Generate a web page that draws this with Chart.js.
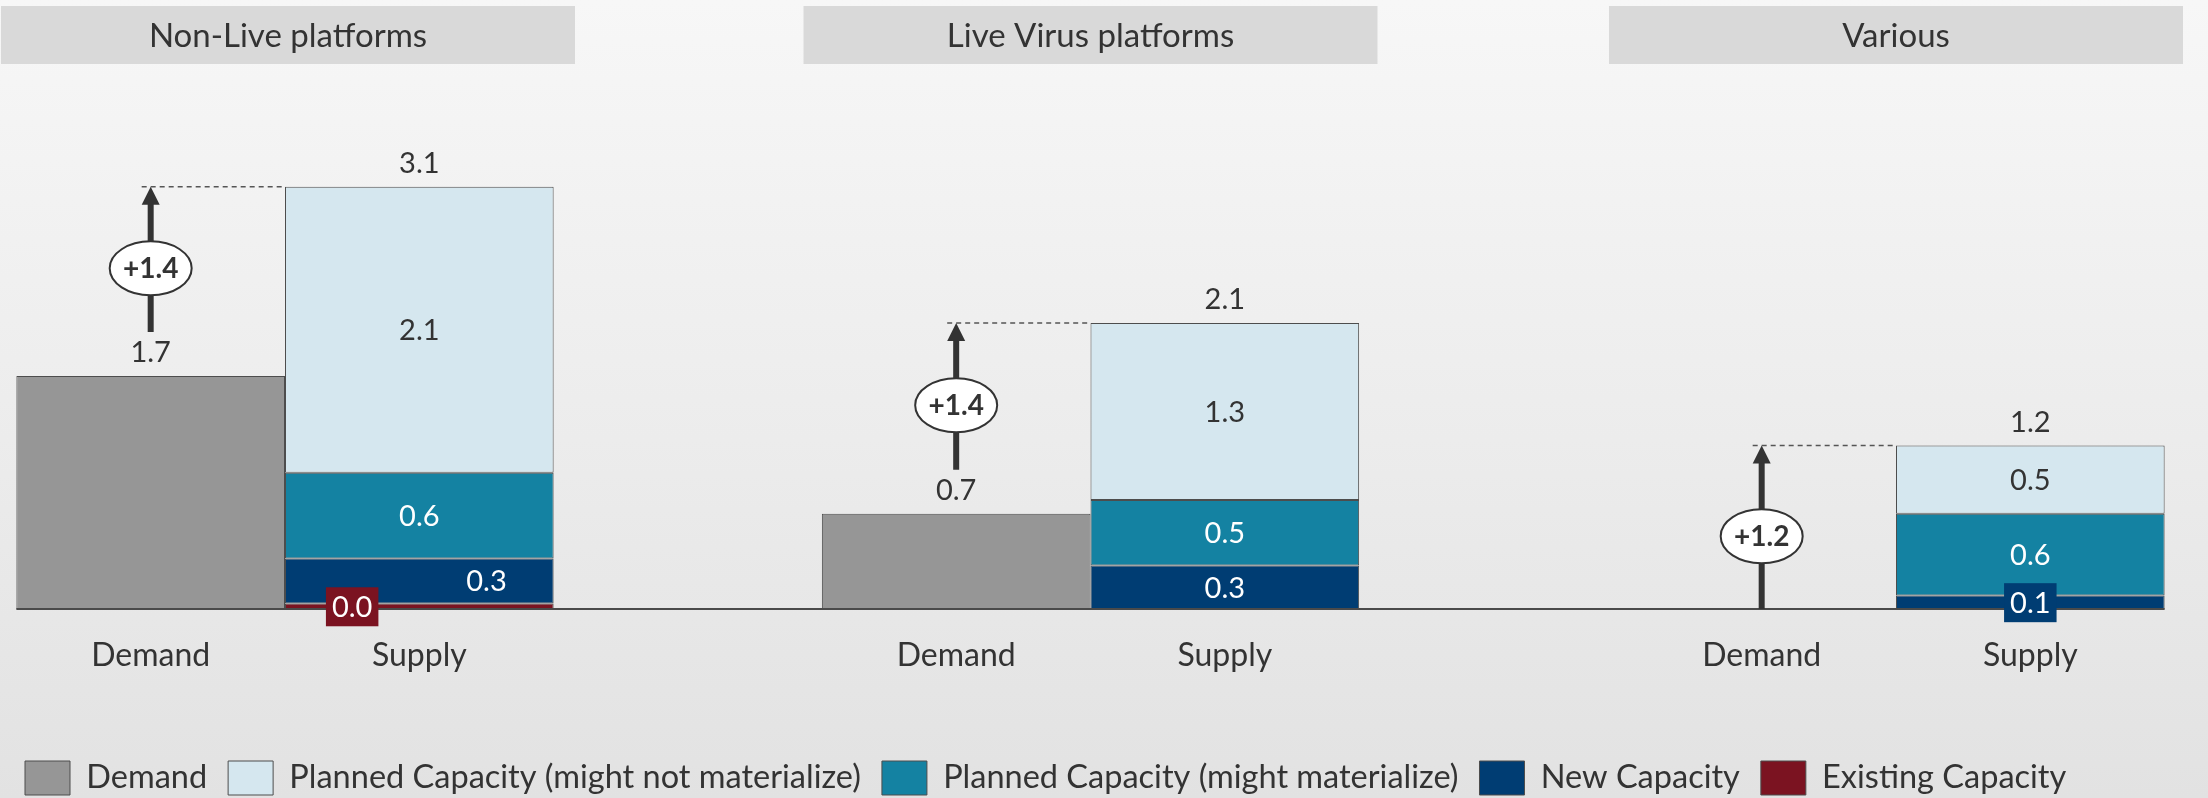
<!DOCTYPE html>
<html lang="en">
<head>
<meta charset="UTF-8">
<title>Demand vs Supply</title>
<style>
  html, body {
    margin: 0;
    padding: 0;
  }
  body {
    width: 2208px;
    height: 798px;
    overflow: hidden;
    background: linear-gradient(to bottom, #f7f7f7 0%, #ececec 55%, #e2e2e2 100%);
    font-family: Lato, sans-serif;
  }
  .wrap {
    position: relative;
    width: 2208px;
    height: 798px;
  }
</style>
</head>
<body>
<div class="wrap">
  <canvas id="chart"></canvas>
</div>

<script src="https://cdn.jsdelivr.net/npm/chart.js@4"></script>
<script>
  // ==== data ====
  const groups = ['Non-Live platforms', 'Live Virus platforms', 'Various'];
  const barNames = ['Demand', 'Supply'];
  const demand = [1.71, 0.70, 0.0];
  const existingCapacity = [0.04, 0.0, 0.0];
  const newCapacity = [0.33, 0.32, 0.10];
  const plannedMaterialize = [0.63, 0.48, 0.60];
  const plannedNotMaterialize = [2.10, 1.30, 0.50];
  const legendOrder = ['Demand', 'Planned Capacity (might not materialize)', 'Planned Capacity (might materialize)', 'New Capacity', 'Existing Capacity'];

  const FONT = 'Lato, "Open Sans", sans-serif';
  Chart.defaults.font.family = FONT;
  Chart.defaults.color = '#333';

  const fmt = v => v.toFixed(1);

  // draws headers, value labels, arrows and bar names
  const overlay = {
    id: 'overlay',
    afterDatasetsDraw(chart) {
      const ctx = chart.ctx;
      const xs = chart.scales.x, ys = chart.scales.y;
      const y0 = ys.getPixelForValue(0);
      const dMeta = chart.getDatasetMeta(0);
      const sMetas = [1, 2, 3, 4].map(i => chart.getDatasetMeta(i));
      const topMeta = sMetas[sMetas.length - 1];
      ctx.save();

      // group headers
      const hw = 574;
      groups.forEach((g, i) => {
        const cx = xs.getPixelForTick(i);
        let left = Math.max(1, Math.min(cx - hw / 2, chart.width - 3 - hw));
        ctx.fillStyle = '#d9d9d9';
        ctx.fillRect(left, 6, hw, 58);
        ctx.fillStyle = '#333';
        ctx.font = '33px ' + FONT;
        ctx.textAlign = 'center';
        ctx.textBaseline = 'middle';
        ctx.fillText(g, left + hw / 2, 36);
      });

      // baseline
      const first = dMeta.data[0], last = topMeta.data[groups.length - 1];
      ctx.strokeStyle = '#4a4a4a';
      ctx.lineWidth = 2;
      ctx.beginPath();
      ctx.moveTo(first.x - first.width / 2, y0);
      ctx.lineTo(last.x + last.width / 2, y0);
      ctx.stroke();

      ctx.textAlign = 'center';
      ctx.textBaseline = 'middle';

      groups.forEach((g, i) => {
        const dEl = dMeta.data[i];
        const sEl = topMeta.data[i];

        // bar names under axis
        ctx.font = '32px ' + FONT;
        ctx.fillStyle = '#333';
        ctx.fillText(barNames[0], dEl.x, y0 + 47);
        ctx.fillText(barNames[1], sEl.x, y0 + 47);

        // segment labels
        ctx.font = '29px ' + FONT;
        const labs = [];
        sMetas.forEach(m => {
          const ds = chart.data.datasets[m.index];
          const v = ds.data[i];
          if (!v) return;
          const el = m.data[i];
          const h = el.base - el.y;
          labs.push({ x: el.x, y: (el.y + el.base) / 2, text: fmt(v), color: ds.labelColor, bg: ds.backgroundColor, boxed: h < 30, w: el.width });
        });
        for (let k = 0; k < labs.length - 1; k++) {
          const a = labs[k], b = labs[k + 1];
          if (a.boxed && Math.abs(a.y - b.y) < 40) {
            a.x -= a.w / 4;
            b.x += b.w / 4;
          }
        }
        labs.forEach(l => {
          if (l.boxed) {
            const tw = ctx.measureText(l.text).width + 12;
            ctx.fillStyle = l.bg;
            ctx.fillRect(l.x - tw / 2, l.y - 19, tw, 39);
          }
          ctx.fillStyle = l.color;
          ctx.fillText(l.text, l.x, l.y + 1);
        });

        // totals
        const supplyTotal = sMetas.reduce((s, m) => s + chart.data.datasets[m.index].data[i], 0);
        ctx.fillStyle = '#333';
        ctx.fillText(fmt(supplyTotal), sEl.x, sEl.y - 23);
        if (demand[i] > 0) ctx.fillText(fmt(demand[i]), dEl.x, dEl.y - 23);

        // arrow from demand to supply total
        const ax = dEl.x;
        const top = sEl.y;
        const bottom = demand[i] > 0 ? dEl.y - 44 : y0;
        ctx.strokeStyle = '#555';
        ctx.lineWidth = 1.5;
        ctx.setLineDash([5, 4]);
        ctx.beginPath();
        ctx.moveTo(ax - 9, top);
        ctx.lineTo(sEl.x - sEl.width / 2, top);
        ctx.stroke();
        ctx.setLineDash([]);

        ctx.strokeStyle = '#333';
        ctx.lineWidth = 6;
        ctx.beginPath();
        ctx.moveTo(ax, bottom);
        ctx.lineTo(ax, top + 16);
        ctx.stroke();
        ctx.fillStyle = '#333';
        ctx.beginPath();
        ctx.moveTo(ax, top);
        ctx.lineTo(ax - 9, top + 18);
        ctx.lineTo(ax + 9, top + 18);
        ctx.closePath();
        ctx.fill();

        const ey = (top + bottom) / 2 + 9;
        ctx.beginPath();
        ctx.ellipse(ax, ey, 41, 27, 0, 0, Math.PI * 2);
        ctx.fillStyle = '#fff';
        ctx.fill();
        ctx.lineWidth = 2;
        ctx.strokeStyle = '#333';
        ctx.stroke();
        ctx.fillStyle = '#333';
        ctx.font = 'bold 28px ' + FONT;
        ctx.fillText('+' + fmt(supplyTotal - demand[i]), ax, ey + 1);
      });
      ctx.restore();
    }
  };

  const barStyle = {
    borderColor: '#4d4d4d',
    borderWidth: 1,
    borderSkipped: false,
    categoryPercentage: 0.667,
    barPercentage: 1,
    clip: false
  };

  new Chart(document.getElementById('chart'), {
    type: 'bar',
    data: {
      labels: groups,
      datasets: [
        { label: 'Demand', data: demand, stack: 'demand', backgroundColor: '#969696', labelColor: '#333', ...barStyle },
        { label: 'Existing Capacity', data: existingCapacity, stack: 'supply', backgroundColor: '#7b1321', labelColor: '#fff', ...barStyle },
        { label: 'New Capacity', data: newCapacity, stack: 'supply', backgroundColor: '#003d73', labelColor: '#fff', ...barStyle },
        { label: 'Planned Capacity (might materialize)', data: plannedMaterialize, stack: 'supply', backgroundColor: '#1482a2', labelColor: '#fff', ...barStyle },
        { label: 'Planned Capacity (might not materialize)', data: plannedNotMaterialize, stack: 'supply', backgroundColor: '#d5e7ef', labelColor: '#333', ...barStyle }
      ]
    },
    options: {
      responsive: true,
      maintainAspectRatio: false,
      animation: false,
      layout: { padding: { top: 64, left: 4, right: 0, bottom: -7 } },
      plugins: {
        tooltip: { enabled: false },
        legend: {
          position: 'bottom',
          align: 'start',
          labels: {
            boxWidth: 45,
            boxHeight: 34,
            padding: 21,
            color: '#333',
            font: { size: 32.5 },
            sort: (a, b) => legendOrder.indexOf(a.text) - legendOrder.indexOf(b.text)
          }
        }
      },
      scales: {
        x: {
          stacked: true,
          offset: false,
          grid: { display: false },
          border: { display: false },
          ticks: { display: false },
          afterFit: s => { s.height = 131; }
        },
        y: {
          stacked: true,
          min: 0,
          max: 4,
          grid: { display: false },
          border: { display: false },
          ticks: { display: false },
          afterFit: s => { s.width = 281; }
        },
        yRight: {
          position: 'right',
          min: 0,
          max: 4,
          grid: { display: false },
          border: { display: false },
          ticks: { display: false },
          afterFit: s => { s.width = 312; }
        }
      }
    },
    plugins: [overlay]
  });
</script>
</body>
</html>
